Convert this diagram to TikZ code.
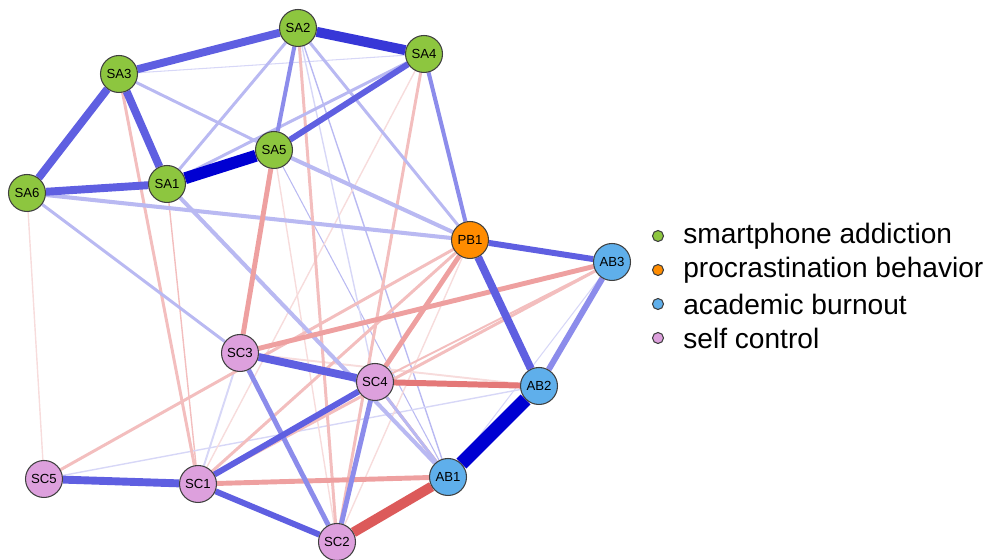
\documentclass[tikz,border=0pt]{standalone}
\usepackage{fontspec}
\setmainfont{Liberation Sans}
\usetikzlibrary{backgrounds}
\definecolor{sagreen}{RGB}{141,198,63}
\definecolor{pborange}{RGB}{255,140,0}
\definecolor{abblue}{RGB}{95,175,235}
\definecolor{scpink}{RGB}{221,160,221}
% edge colours, from strong to faint
\definecolor{posA}{RGB}{0,0,210}
\definecolor{posB}{RGB}{55,55,215}
\definecolor{posC}{RGB}{95,95,225}
\definecolor{posD}{RGB}{140,140,235}
\definecolor{posE}{RGB}{185,185,242}
\definecolor{posF}{RGB}{215,215,247}
\definecolor{negA}{RGB}{220,90,90}
\definecolor{negB}{RGB}{228,120,120}
\definecolor{negC}{RGB}{238,160,160}
\definecolor{negD}{RGB}{243,190,190}
\definecolor{negE}{RGB}{247,220,220}
\tikzset{
  var/.style={circle, draw=black!75, line width=0.6pt, minimum size=0.74cm,
    inner sep=0pt, font=\fontsize{7.5}{8}\selectfont},
  sanode/.style={var, fill=sagreen},
  pbnode/.style={var, fill=pborange},
  abnode/.style={var, fill=abblue},
  scnode/.style={var, fill=scpink},
  keydot/.style={circle, draw=black!75, line width=0.6pt, minimum size=0.22cm, inner sep=0pt},
  keytext/.style={anchor=west, inner sep=0pt, font=\fontsize{16}{19}\selectfont}
}
\begin{document}
\begin{tikzpicture}[x=0.02cm, y=-0.02cm]
\useasboundingbox (0,0) rectangle (992,560);
% variables
\node[sanode] (SA2) at (298,28) {SA2};
\node[sanode] (SA4) at (424,54) {SA4};
\node[sanode] (SA3) at (119,74) {SA3};
\node[sanode] (SA5) at (274,150) {SA5};
\node[sanode] (SA1) at (167,184) {SA1};
\node[sanode] (SA6) at (27,193) {SA6};
\node[pbnode] (PB1) at (470,240) {PB1};
\node[abnode] (AB3) at (612,262) {AB3};
\node[abnode] (AB2) at (539,386) {AB2};
\node[abnode] (AB1) at (448,477) {AB1};
\node[scnode] (SC3) at (240,353) {SC3};
\node[scnode] (SC4) at (375,382) {SC4};
\node[scnode] (SC5) at (44,479) {SC5};
\node[scnode] (SC1) at (198,484) {SC1};
\node[scnode] (SC2) at (337,542) {SC2};
\begin{pgfonlayer}{background}
% faint edges
\draw[posF, line width=0.6pt] (SA3) -- (SA4);
\draw[negE, line width=0.8pt] (SA6) -- (SC5);
\draw[negD, line width=0.8pt] (SA1) -- (SC1);
\draw[posF, line width=1.1pt] (SC1) -- (SC3);
\draw[posE, line width=0.8pt] (SA2) -- (AB1);
\draw[posE, line width=0.6pt] (SA5) -- (AB1);
\draw[posF, line width=0.8pt] (SC5) -- (AB2);
\draw[negE, line width=1.1pt] (SC3) -- (AB2);
\draw[negE, line width=0.8pt] (SA4) -- (SC1);
\draw[posF, line width=0.8pt] (SA2) -- (SC4);
\draw[negE, line width=0.8pt] (PB1) -- (SC2);
\draw[negD, line width=1.1pt] (AB3) -- (SC4);
\draw[negE, line width=0.8pt] (SA5) -- (SC2);
\draw[posF, line width=0.6pt] (AB3) -- (AB1);
% light edges
\draw[negD, line width=1.7pt] (SA3) -- (SC1);
\draw[negD, line width=1.7pt] (SC1) -- (PB1);
\draw[negD, line width=1.7pt] (SC5) -- (PB1);
\draw[negD, line width=1.7pt] (SC1) -- (AB3);
\draw[negD, line width=1.7pt] (SA4) -- (SC2);
\draw[negD, line width=1.7pt] (SA2) -- (SC2);
\draw[negC, line width=1.7pt] (SC4) -- (AB1);
\draw[posE, line width=1.7pt] (SA2) -- (SA1);
\draw[posE, line width=1.7pt] (SA4) -- (SA1);
\draw[posE, line width=1.7pt] (SA3) -- (SA5);
\draw[posE, line width=1.7pt] (SA2) -- (PB1);
\draw[posE, line width=1.7pt] (SA6) -- (SC3);
\draw[posE, line width=1.7pt] (SC4) -- (AB1);
\draw[posE, line width=2.3pt] (SA6) -- (PB1);
\draw[posE, line width=2.3pt] (SA5) -- (PB1);
\draw[posD, line width=2.3pt] (SA2) -- (SA5);
\draw[posD, line width=2.3pt] (SA4) -- (PB1);
\draw[posE, line width=2.3pt] (SA1) -- (AB1);
% medium edges
\draw[negC, line width=2.8pt] (SC3) -- (AB3);
\draw[negC, line width=2.8pt] (SA5) -- (SC3);
\draw[negC, line width=2.8pt] (SC1) -- (AB1);
\draw[negC, line width=2.8pt] (SC4) -- (PB1);
\draw[negB, line width=3.4pt] (SC4) -- (AB2);
\draw[posD, line width=2.8pt] (SC3) -- (SC2);
\draw[posD, line width=2.8pt] (SC4) -- (SC2);
\draw[posC, line width=3.4pt] (SC1) -- (SC4);
\draw[posC, line width=3.4pt] (SC1) -- (SC2);
\draw[posD, line width=3.4pt] (AB3) -- (AB2);
\draw[posC, line width=3.4pt] (PB1) -- (AB3);
\draw[posC, line width=3.4pt] (SA5) -- (SA4);
% strong edges
\draw[posC, line width=4.5pt] (SC5) -- (SC1);
\draw[posC, line width=4.5pt] (SC3) -- (SC4);
\draw[posC, line width=4.5pt] (PB1) -- (AB2);
\draw[posC, line width=4.5pt] (SA3) -- (SA2);
\draw[posC, line width=4.5pt] (SA3) -- (SA6);
\draw[posC, line width=4.5pt] (SA3) -- (SA1);
\draw[posC, line width=4.5pt] (SA6) -- (SA1);
\draw[posB, line width=5.7pt] (SA2) -- (SA4);
\draw[negA, line width=5.7pt] (SC2) -- (AB1);
\draw[posA, line width=6.8pt] (SA1) -- (SA5);
\draw[posA, line width=8pt] (AB1) -- (AB2);
\end{pgfonlayer}
% legend
\node[keydot, fill=sagreen] (k1) at (658,236) {};
\node[keydot, fill=pborange] (k2) at (658,270) {};
\node[keydot, fill=abblue] (k3) at (658,304) {};
\node[keydot, fill=scpink] (k4) at (658,338) {};
\node[keytext] (t1) at (683,236) {smartphone addiction};
\node[keytext] (t2) at (683,270) {procrastination behavior};
\node[keytext] (t3) at (683,304) {academic burnout};
\node[keytext] (t4) at (683,338) {self control};
\end{tikzpicture}
\end{document}
